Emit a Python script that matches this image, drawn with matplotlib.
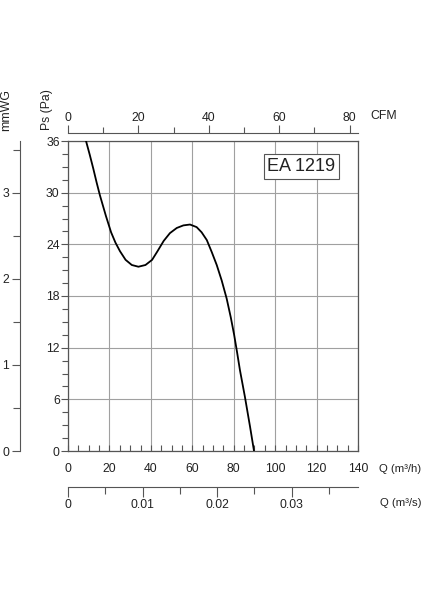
import numpy as np
import matplotlib
matplotlib.use('Agg')
import matplotlib.pyplot as plt
from matplotlib.ticker import MultipleLocator

plt.rcParams['font.family'] = ['Liberation Sans', 'DejaVu Sans']

# fan curve: flow in m3/h, static pressure in Pa
q_m3h = [8.7, 10.5, 12.2, 13.8, 15.4, 18.3, 20.8, 22.9, 25.1, 27.8, 30.8, 34.0,
         37.4, 40.6, 43.2, 46.2, 49.2, 52.5, 55.7, 58.9, 62.1, 64.5, 67.0, 69.4,
         71.8, 74.2, 76.6, 78.6, 80.2, 81.6, 83.0, 85.4, 87.9, 89.8]
ps_pa = [36.0, 34.4, 32.8, 31.2, 29.7, 27.3, 25.4, 24.2, 23.2, 22.2, 21.6, 21.4,
         21.6, 22.2, 23.2, 24.4, 25.3, 25.9, 26.2, 26.3, 26.0, 25.4, 24.5, 23.1,
         21.6, 19.8, 17.7, 15.5, 13.5, 11.5, 9.4, 6.3, 2.8, 0.0]
model = 'EA 1219'

Q_MAX = 140.0
P_MAX = 36.0
CFM_PER_M3H = 1 / 1.699
PA_PER_MMWG = 10.0

W, H = 424, 600
spine_c = '#555555'
grid_c = '#a0a0a0'
text_c = '#222222'
fs = 8.8

def fx(px):
    return px / W

def fy(py):
    return 1 - py / H

fig = plt.figure(figsize=(W / 100, H / 100), dpi=100)

left, right, top, bottom = 68, 358, 141, 451
ax = fig.add_axes([fx(left), fy(bottom), fx(right - left), (bottom - top) / H])
ax.set_xlim(0, Q_MAX)
ax.set_ylim(0, P_MAX)
ax.plot(q_m3h, ps_pa, c='black', lw=1.3, zorder=3, solid_joinstyle='round')
ax.xaxis.set_major_locator(MultipleLocator(20))
ax.xaxis.set_minor_locator(MultipleLocator(5))
ax.yaxis.set_major_locator(MultipleLocator(6))
ax.yaxis.set_minor_locator(MultipleLocator(1.5))
ax.grid(which='major', color=grid_c, lw=0.8)
ax.tick_params(axis='x', which='both', direction='in', length=4, width=0.8,
               color=spine_c, labelsize=fs, labelcolor=text_c, pad=9)
ax.tick_params(axis='y', which='major', direction='out', length=5, width=0.8,
               color=spine_c, labelsize=fs, labelcolor=text_c, pad=1)
ax.tick_params(axis='y', which='minor', direction='out', length=4, width=0.8,
               color=spine_c)
for s in ax.spines.values():
    s.set_color(spine_c)
    s.set_linewidth(0.9)
ax.text(0.805, 0.918, model, transform=ax.transAxes, ha='center', va='center',
        fontsize=13, color=text_c,
        bbox=dict(boxstyle='square,pad=0.2', fc='white', ec=spine_c, lw=0.8))

def bare_axes(rect):
    a = fig.add_axes(rect)
    a.patch.set_visible(False)
    for s in a.spines.values():
        s.set_visible(False)
    return a

# CFM scale on top
cfm = bare_axes([fx(left), fy(133), fx(right - left), 0.0001])
cfm.set_xlim(0, Q_MAX * CFM_PER_M3H)
cfm.spines['top'].set_visible(True)
cfm.spines['top'].set_color(spine_c)
cfm.xaxis.tick_top()
cfm.xaxis.set_major_locator(MultipleLocator(20))
cfm.xaxis.set_minor_locator(MultipleLocator(10))
cfm.tick_params(axis='x', which='major', direction='out', length=6, width=0.8,
                color=spine_c, labelsize=fs, labelcolor=text_c, pad=0.5)
cfm.tick_params(axis='x', which='minor', direction='out', length=4, width=0.8,
                color=spine_c)
cfm.set_yticks([])
fig.text(fx(370), fy(116), 'CFM', fontsize=fs, color=text_c, va='center')

# m3/s scale below
m3s = bare_axes([fx(left), fy(487), fx(right - left), 0.0001])
m3s.set_xlim(0, Q_MAX / 3600)
m3s.spines['bottom'].set_visible(True)
m3s.spines['bottom'].set_color(spine_c)
m3s.xaxis.set_major_locator(MultipleLocator(0.01))
m3s.xaxis.set_minor_locator(MultipleLocator(0.005))
m3s.xaxis.set_major_formatter(lambda v, p: '0' if v == 0 else f'{v:.2f}')
m3s.tick_params(axis='x', which='major', direction='out', length=7, width=0.8,
                color=spine_c, labelsize=fs, labelcolor=text_c, pad=2)
m3s.tick_params(axis='x', which='minor', direction='out', length=5, width=0.8,
                color=spine_c)
m3s.set_yticks([])
fig.text(fx(421), fy(469), 'Q (m³/h)', fontsize=8.2, color=text_c,
         ha='right', va='center')
fig.text(fx(421), fy(503), 'Q (m³/s)', fontsize=8.2, color=text_c,
         ha='right', va='center')

# mmWG scale on the far left
mm = bare_axes([fx(20), fy(bottom), 0.0001, (bottom - top) / H])
mm.set_ylim(0, P_MAX / PA_PER_MMWG)
mm.spines['left'].set_visible(True)
mm.spines['left'].set_color(spine_c)
mm.yaxis.set_major_locator(MultipleLocator(1))
mm.yaxis.set_minor_locator(MultipleLocator(0.5))
mm.tick_params(axis='y', which='major', direction='out', length=6, width=0.8,
               color=spine_c, labelsize=fs, labelcolor=text_c, pad=2)
mm.tick_params(axis='y', which='minor', direction='out', length=5, width=0.8,
               color=spine_c)
mm.set_xticks([])

fig.text(fx(47), fy(110), 'Ps (Pa)', rotation=90, fontsize=fs, color=text_c,
         ha='center', va='center')
fig.text(fx(6), fy(110), 'mmWG', rotation=90, fontsize=fs, color=text_c,
         ha='center', va='center')

fig.savefig('out.png', dpi=100, facecolor='white')
